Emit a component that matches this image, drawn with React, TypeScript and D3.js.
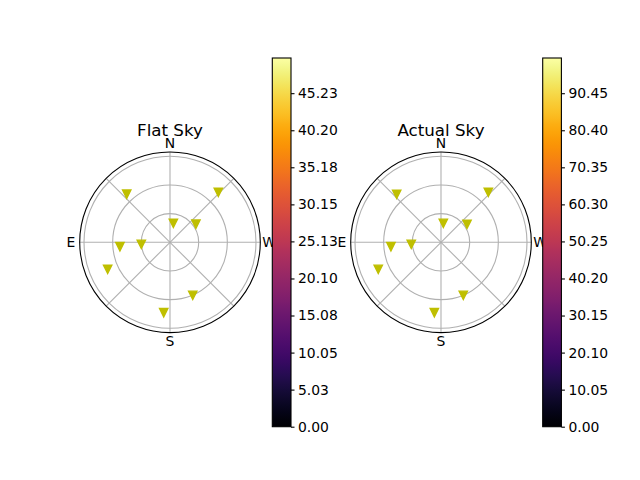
import React, { useEffect, useRef } from 'react';
import * as d3 from 'd3';

// azimuth in degrees (N=0, E=90, S=180, W=270), zenith distance as radius
const flatAzimuth = [42, 316, 350, 305, 95, 94, 113.4, 203.2, 174.9];
const flatZenith = [67.7, 72.8, 20.2, 33.1, 52.6, 30.1, 71.1, 60.4, 74.0];
const actualAzimuth = [42.7, 316.6, 353, 304.7, 95, 93.9, 113.3, 202.8, 174.6];
const actualZenith = [68.4, 72.1, 20.0, 33.1, 52.6, 31.2, 71.5, 60.2, 74.0];

const radialTicks = [30, 60, 90];
const angleTicks = [0, 45, 90, 135, 180, 225, 270, 315];
const compassLabels = ['N', 'E', 'S', 'W'];

const flatBarTicks = [0, 5.03, 10.05, 15.08, 20.1, 25.13, 30.15, 35.18, 40.2, 45.23];
const actualBarTicks = [0, 10.05, 20.1, 30.15, 40.2, 50.25, 60.3, 70.35, 80.4, 90.45];

const W = 640;
const H = 480;
const FONT = 'DejaVu Sans, sans-serif';

const App: React.FC = () => {
  const svgRef = useRef<SVGSVGElement | null>(null);

  useEffect(() => {
    if (!svgRef.current) return;
    const svg = d3.select(svgRef.current);
    svg.selectAll('*').remove();

    const panels = [
      { title: 'Flat Sky', az: flatAzimuth, zen: flatZenith, cx: 170, barX: 272.3, barMax: 50, ticks: flatBarTicks, id: 'g0' },
      { title: 'Actual Sky', az: actualAzimuth, zen: actualZenith, cx: 441, barX: 542.7, barMax: 100, ticks: actualBarTicks, id: 'g1' },
    ];

    const cy = 242.3;
    const outer = 90.3;
    const r = d3.scaleLinear().domain([0, 94.5]).range([0, outer]);
    const rad = (a: number) => (a * Math.PI) / 180;

    const defs = svg.append('defs');

    panels.forEach((p) => {
      const g = svg.append('g').attr('transform', `translate(${p.cx},${cy})`);

      g.append('circle').attr('r', outer).attr('fill', 'white');

      // radial grid
      g.selectAll('.rgrid')
        .data(radialTicks)
        .enter()
        .append('circle')
        .attr('r', (d) => r(d))
        .attr('fill', 'none')
        .attr('stroke', '#b0b0b0')
        .attr('stroke-width', 1.1);

      // angular grid
      g.selectAll('.agrid')
        .data(angleTicks)
        .enter()
        .append('line')
        .attr('x1', 0)
        .attr('y1', 0)
        .attr('x2', (d) => -outer * Math.sin(rad(d)))
        .attr('y2', (d) => -outer * Math.cos(rad(d)))
        .attr('stroke', '#b0b0b0')
        .attr('stroke-width', 1.1);

      g.append('circle')
        .attr('r', outer)
        .attr('fill', 'none')
        .attr('stroke', 'black')
        .attr('stroke-width', 1.1);

      // markers
      const s = 4.17;
      const tri = `M0,${s}L${-s},${-s}L${s},${-s}Z`;
      g.selectAll('.pt')
        .data(p.az.map((a, i) => ({ a, z: p.zen[i] })))
        .enter()
        .append('path')
        .attr('d', tri)
        .attr('transform', (d) => `translate(${-r(d.z) * Math.sin(rad(d.a))},${-r(d.z) * Math.cos(rad(d.a))})`)
        .attr('fill', '#bfbf00')
        .attr('stroke', '#bfbf00')
        .attr('stroke-width', 1.39)
        .attr('stroke-linejoin', 'miter');

      // compass labels
      const labR = 99;
      g.selectAll('.lab')
        .data(compassLabels)
        .enter()
        .append('text')
        .attr('x', (_, i) => -labR * Math.sin(rad(i * 90)))
        .attr('y', (_, i) => -labR * Math.cos(rad(i * 90)) + 5)
        .attr('text-anchor', 'middle')
        .attr('font-family', FONT)
        .attr('font-size', 13.9)
        .text((d) => d);

      svg.append('text')
        .attr('x', p.cx)
        .attr('y', 136)
        .attr('text-anchor', 'middle')
        .attr('font-family', FONT)
        .attr('font-size', 16.7)
        .text(p.title);

      // colorbar
      const top = 58;
      const bottom = 426.7;
      const bw = 18.7;
      const grad = defs.append('linearGradient')
        .attr('id', p.id)
        .attr('x1', 0).attr('y1', 1).attr('x2', 0).attr('y2', 0);
      d3.range(0, 1.0001, 0.02).forEach((t) => {
        grad.append('stop').attr('offset', t).attr('stop-color', d3.interpolateInferno(t));
      });
      svg.append('rect')
        .attr('x', p.barX)
        .attr('y', top)
        .attr('width', bw)
        .attr('height', bottom - top)
        .attr('fill', `url(#${p.id})`)
        .attr('stroke', 'black')
        .attr('stroke-width', 1.1);

      const y = d3.scaleLinear().domain([0, p.barMax]).range([bottom, top]);
      const ax = svg.append('g')
        .attr('transform', `translate(${p.barX + bw},0)`)
        .call(d3.axisRight(y).tickValues(p.ticks).tickSize(3.5).tickPadding(3.5).tickFormat((d) => (+d).toFixed(2)));
      ax.select('.domain').remove();
      ax.selectAll('line').attr('stroke-width', 1.1);
      ax.selectAll('text').attr('font-family', FONT).attr('font-size', 13.9).attr('fill', 'black');
    });
  }, []);

  return (
    <svg
      ref={svgRef}
      width={W}
      height={H}
      style={{ position: 'absolute', left: 0, top: 0, background: 'white' }}
    />
  );
};

export default App;
